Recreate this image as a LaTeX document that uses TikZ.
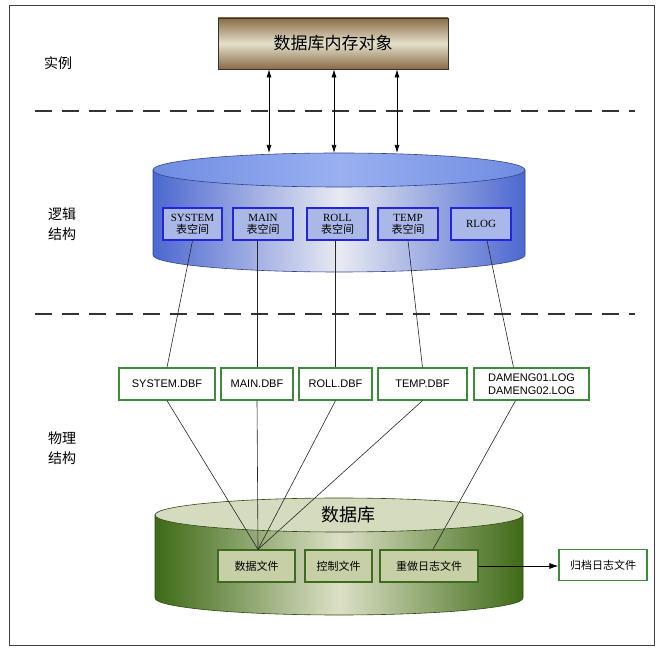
\documentclass[tikz,border=0pt]{standalone}
\usepackage{fontspec}
\setmainfont{Liberation Sans}
\newfontfamily\cjk{Noto Sans CJK SC}
\newfontfamily\tmsfont{Liberation Serif}
\usetikzlibrary{arrows.meta}

\definecolor{memDark}{HTML}{8A6A44}
\definecolor{memLight}{HTML}{E4E0CC}
\definecolor{logSide}{HTML}{4C68D0}
\definecolor{logMid}{HTML}{E8EAF2}
\definecolor{logTopL}{HTML}{6F8CE2}
\definecolor{logTopM}{HTML}{9AB0F0}
\definecolor{logLine}{HTML}{34448A}
\definecolor{tsBlue}{HTML}{2424E0}
\definecolor{tsFill}{HTML}{AAB8E8}
\definecolor{dbSide}{HTML}{3E6A16}
\definecolor{dbMid}{HTML}{DCE0C6}
\definecolor{dbTop}{HTML}{D5DBBF}
\definecolor{dbLine}{HTML}{2E4A12}
\definecolor{fileGreen}{HTML}{3E6B1E}
\definecolor{fileFill}{HTML}{C6CFA6}
\definecolor{dbfGreen}{HTML}{3D8B3D}

\begin{document}
\begin{tikzpicture}[x=1pt,y=1pt,
    tsbox/.style={draw=tsBlue,line width=1.2pt,fill=tsFill,minimum width=60pt,minimum height=32pt,inner sep=0pt,align=center,font=\tmsfont\fontsize{11}{12}\selectfont},
    dbfbox/.style={draw=dbfGreen,line width=1.2pt,fill=white,minimum height=32pt,inner sep=0pt,align=center,font=\fontsize{11}{12.5}\selectfont},
    filebox/.style={draw=fileGreen,line width=1.2pt,fill=fileFill,minimum height=32pt,inner sep=0pt,font=\cjk\fontsize{11}{12}\selectfont},
    side/.style={font=\cjk\fontsize{14}{20}\selectfont,align=center},
    link/.style={black!85,line width=0.6pt},
    dbl/.style={{Latex[length=8pt,width=5pt]}-{Latex[length=8pt,width=5pt]},line width=0.7pt},
    sep/.style={dash pattern=on 17pt off 10pt,line width=1.6pt,black!80}]

    \useasboundingbox (0,0) rectangle (660,658);
    \draw[black!75,line width=1pt] (9,13) rectangle (654,652);

    % layer labels
    \node (inst) at (58,595) [side] {实例};
    \node (logic) at (62,434) [side] {逻辑\\结构};
    \node (phys) at (62,210) [side] {物理\\结构};

    \draw[sep] (35,547) -- (635,547);
    \draw[sep] (35,344) -- (635,344);

    % instance
    \node (mem) at (333,614.5) [draw=black!80,line width=0.8pt,top color=memDark,bottom color=memDark,middle color=memLight,minimum width=230pt,minimum height=51pt,font=\cjk\fontsize{17}{20}\selectfont] {数据库内存对象};

    % logical cylinder
    \shadedraw[left color=logSide,right color=logSide,middle color=logMid,draw=logLine,line width=0.6pt]
        (153,488) -- (153,403) arc[start angle=180,end angle=360,x radius=186,y radius=17] -- (525,488) -- cycle;
    \shadedraw[left color=logTopL,right color=logTopL,middle color=logTopM,draw=logLine,line width=0.6pt]
        (339,488) ellipse[x radius=186,y radius=17];
    \coordinate (logTopC) at (339,505);

    \node (sysTS) at (192.5,434) [tsbox,minimum width=59pt] {SYSTEM\\{\cjk 表空间}};
    \node (mainTS) at (263,434) [tsbox] {MAIN\\{\cjk 表空间}};
    \node (rollTS) at (337.5,434) [tsbox,minimum width=61pt] {ROLL\\{\cjk 表空间}};
    \node (tempTS) at (408,434) [tsbox] {TEMP\\{\cjk 表空间}};
    \node (rlogTS) at (481,434) [tsbox] {RLOG};

    % physical files
    \node (sysDBF) at (167,274) [dbfbox,minimum width=96pt] {SYSTEM.DBF};
    \node (mainDBF) at (257,274) [dbfbox,minimum width=72pt] {MAIN.DBF};
    \node (rollDBF) at (335.5,274) [dbfbox,minimum width=73pt] {ROLL.DBF};
    \node (tempDBF) at (422.5,274) [dbfbox,minimum width=89pt] {TEMP.DBF};
    \node (logDBF) at (531.5,274) [dbfbox,minimum width=115pt] {DAMENG01.LOG\\DAMENG02.LOG};

    % database cylinder
    \shadedraw[left color=dbSide,right color=dbSide,middle color=dbMid,draw=dbLine,line width=0.6pt]
        (155,143) -- (155,60) arc[start angle=180,end angle=360,x radius=184,y radius=17] -- (523,143) -- cycle;
    \filldraw[fill=dbTop,draw=dbLine,line width=0.6pt] (339,143) ellipse[x radius=184,y radius=17];
    \node (db) at (348,143) [font=\cjk\fontsize{18}{20}\selectfont] {数据库};

    \node (dataF) at (256.5,92) [filebox,minimum width=77pt] {数据文件};
    \node (ctlF) at (338.5,92) [filebox,minimum width=67pt] {控制文件};
    \node (redoF) at (429,92) [filebox,minimum width=98pt] {重做日志文件};
    \node (archF) at (603,93) [draw=dbfGreen,line width=1.2pt,fill=white,minimum width=88pt,minimum height=31pt,inner sep=0pt,font=\cjk\fontsize{11}{12}\selectfont] {归档日志文件};

    % connectors
    \foreach \i/\dx in {1/-64,2/1,3/64} {
        \coordinate (a\i) at ([xshift=\dx pt]mem.south);
        \draw[dbl] (a\i) -- (a\i |- logTopC);
    }

    \draw[link] (sysTS.south) -- (sysDBF.north);
    \draw[link] (mainDBF.north |- mainTS.south) -- (mainDBF.north);
    \draw[link] (rollDBF.north |- rollTS.south) -- (rollDBF.north);
    \draw[link] (tempTS.south) -- (tempDBF.north);
    \draw[link] ([xshift=6pt]rlogTS.south) -- ([xshift=-18pt]logDBF.north);

    \foreach \f in {sysDBF,mainDBF,rollDBF,tempDBF}
        \draw[link] (\f.south) -- ([xshift=1.5pt]dataF.north);
    \draw[link] ([xshift=-16pt]logDBF.south) -- ([xshift=4pt]redoF.north);

    \draw[-{Latex[length=9pt,width=6pt]},line width=0.8pt] (redoF.east) -- (redoF.east -| archF.west);
\end{tikzpicture}
\end{document}
